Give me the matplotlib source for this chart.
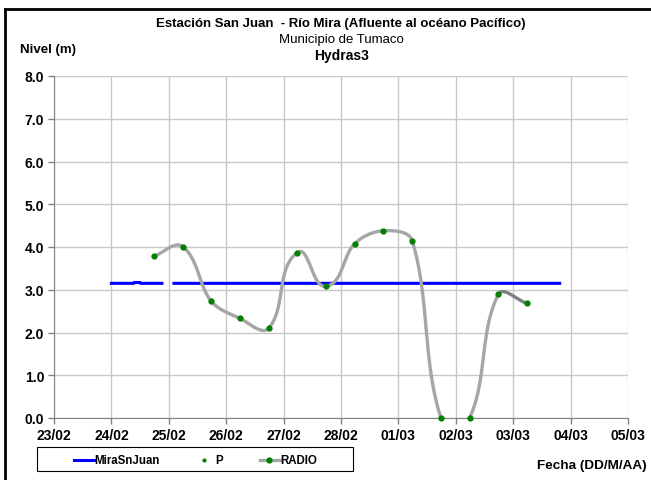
import numpy as np
import matplotlib.pyplot as plt
from matplotlib import font_manager
from matplotlib.lines import Line2D
from matplotlib.patches import Rectangle

# x values are days after 23/02
day_labels = ["23/02", "24/02", "25/02", "26/02", "27/02", "28/02",
              "01/03", "02/03", "03/03", "04/03", "05/03"]

radio_days = [1.74, 2.24, 2.74, 3.24, 3.74, 4.24, 4.74,
              5.24, 5.74, 6.24, 6.74, 7.24, 7.74, 8.24]
radio_level = [3.78, 4.01, 2.73, 2.33, 2.10, 3.87, 3.08,
               4.08, 4.38, 4.15, 0.0, 0.0, 2.89, 2.68]

mira_days = [1.00, 1.39, 1.40, 1.50, 1.51, 1.88, 1.89, 2.09, 8.81]
mira_level = [3.15, 3.15, 3.17, 3.17, 3.15, 3.15, np.nan, 3.15, 3.15]

legend_names = ["MiraSnJuan", "P", "RADIO"]

names = {f.name for f in font_manager.fontManager.ttflist}
font = "Liberation Sans Narrow" if "Liberation Sans Narrow" in names else "Liberation Sans"
plt.rcParams['font.family'] = [font, 'DejaVu Sans']


def excel_smooth(x, y, sx, sy, n=40):
    # bezier through the points, done in pixel space like excel does
    px = np.array(x) * sx
    py = np.array(y) * sy
    P = np.column_stack([px, py])
    out = []
    for i in range(len(P) - 1):
        p0 = P[max(i - 1, 0)]
        p1 = P[i]
        p2 = P[i + 1]
        p3 = P[min(i + 2, len(P) - 1)]
        seg = np.linalg.norm(p2 - p1)
        d1 = p2 - p0
        d2 = p3 - p1
        c1 = p1 + d1 / np.linalg.norm(d1) * seg / 3
        c2 = p2 - d2 / np.linalg.norm(d2) * seg / 3
        t = np.linspace(0, 1, n)[:, None]
        b = (1 - t) ** 3 * p1 + 3 * (1 - t) ** 2 * t * c1 + 3 * (1 - t) * t ** 2 * c2 + t ** 3 * p2
        out.append(b if i == 0 else b[1:])
    out = np.vstack(out)
    return out[:, 0] / sx, out[:, 1] / sy, n - 1


fig = plt.figure(figsize=(6.51, 4.81), dpi=100)
ax = fig.add_axes([54 / 651, 62 / 481, 574 / 651, 342 / 481])

sx = 574 / 10
sy = 342 / 8
cx, cy, step = excel_smooth(radio_days, radio_level, sx, sy)
last = len(cx) - step - 1

ax.plot(mira_days, mira_level, color="#0000ff", lw=2.2, zorder=3)
ax.plot(cx[:last + 1], cy[:last + 1], color="#a6a6a6", lw=2.4, zorder=4,
        solid_capstyle="round")
ax.plot(cx[last:], cy[last:], color="#7f7f7f", lw=2.4, zorder=4,
        solid_capstyle="round")
ax.plot(radio_days, radio_level, "o", color="#008000", ms=3.5, zorder=5, clip_on=False)

ax.set_xlim(0, 10)
ax.set_ylim(0, 8)
ax.set_xticks(range(11))
ax.set_xticklabels(day_labels)
ax.set_yticks(range(9))
ax.set_yticklabels([f"{v:.1f}" for v in range(9)])
ax.grid(True, color="#c8c8c8", lw=1)
ax.set_axisbelow(True)
for s in ["top", "right"]:
    ax.spines[s].set_visible(False)
for s in ["left", "bottom"]:
    ax.spines[s].set_color("#808080")
ax.tick_params(direction="out", length=4, color="#808080", width=1,
               labelsize=10, pad=3)
for lab in ax.get_xticklabels() + ax.get_yticklabels():
    lab.set_fontweight("bold")

fig.text(0.524, 0.950, "Estación San Juan  - Río Mira (Afluente al océano Pacífico)",
         ha="center", va="center", fontsize=9.5, fontweight="bold")
fig.text(0.524, 0.917, "Municipio de Tumaco", ha="center", va="center", fontsize=9.5)
fig.text(0.524, 0.884, "Hydras3", ha="center", va="center", fontsize=10, fontweight="bold")
fig.text(20 / 651, 1 - 50 / 481, "Nivel (m)", ha="left", va="center",
         fontsize=9.5, fontweight="bold")
fig.text(647 / 651, 1 - 466 / 481, "Fecha (DD/M/AA)", ha="right", va="center",
         fontsize=9.7, fontweight="bold")

# outer frame of the chart
fig.add_artist(Line2D([5 / 651, 5 / 651], [0, 1 - 10 / 481], color="black", lw=2,
                      transform=fig.transFigure))
fig.add_artist(Line2D([5 / 651, 1], [1 - 10 / 481, 1 - 10 / 481], color="black", lw=2,
                      transform=fig.transFigure))


# legend drawn by hand, in pixel positions of the figure
def fx(px):
    return px / 651


def fy(py):
    return 1 - py / 481


fig.add_artist(Rectangle((fx(37), fy(472)), fx(353) - fx(37), fy(448) - fy(472),
                         fill=False, edgecolor="black", lw=0.8,
                         transform=fig.transFigure))
ly = fy(461)
fig.add_artist(Line2D([fx(74), fx(94)], [ly, ly], color="#0000ff", lw=2.2,
                      transform=fig.transFigure))
fig.add_artist(Line2D([fx(204)], [ly], color="#008000", marker="o", ms=2, lw=0,
                      transform=fig.transFigure))
fig.add_artist(Line2D([fx(260), fx(280)], [ly, ly], color="#a6a6a6", lw=2.4,
                      transform=fig.transFigure))
fig.add_artist(Line2D([fx(269)], [ly], color="#008000", marker="o", ms=3.5, lw=0,
                      transform=fig.transFigure))
for x0, txt in zip([94, 215, 280], legend_names):
    fig.text(fx(x0), ly, txt, ha="left", va="center", fontsize=8.3, fontweight="bold")

fig.savefig("out.png", dpi=100)
